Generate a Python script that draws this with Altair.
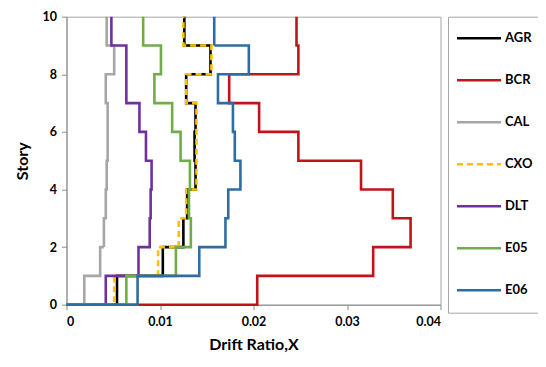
import altair as alt
import pandas as pd

series_names = ["AGR", "BCR", "CAL", "CXO", "DLT", "E05", "E06"]
series_colors = ["#000000", "#C0141C", "#A6A6A6", "#FFC000", "#7030A0", "#70AD47", "#2E6DA4"]
series_dash = [[1, 0], [1, 0], [1, 0], [6, 4], [1, 0], [1, 0], [1, 0]]

# drift ratio per story (story 1 .. story 10)
AGR = [0.0054, 0.0103, 0.0125, 0.0129, 0.0138, 0.0137, 0.0138, 0.0128, 0.0154, 0.0126]
BCR = [0.0204, 0.0328, 0.0368, 0.0349, 0.0315, 0.0248, 0.0206, 0.0174, 0.0248, 0.0246]
CAL = [0.0019, 0.0036, 0.0040, 0.0042, 0.0043, 0.0044, 0.0044, 0.0042, 0.0051, 0.0043]
CXO = [0.0051, 0.0098, 0.0120, 0.0128, 0.0139, 0.0139, 0.0139, 0.0128, 0.0155, 0.0125]
DLT = [0.0042, 0.0077, 0.0089, 0.0090, 0.0091, 0.0085, 0.0078, 0.0064, 0.0064, 0.0048]
E05 = [0.0064, 0.0117, 0.0133, 0.0131, 0.0132, 0.0122, 0.0113, 0.0094, 0.0101, 0.0082]
E06 = [0.0076, 0.0142, 0.0170, 0.0173, 0.0186, 0.0180, 0.0178, 0.0162, 0.0195, 0.0158]

x_ticks = [0, 0.01, 0.02, 0.03, 0.04]
y_ticks = [0, 2, 4, 6, 8, 10]

values = dict(AGR=AGR, BCR=BCR, CAL=CAL, CXO=CXO, DLT=DLT, E05=E05, E06=E06)

rows = []
for name in series_names:
    vals = values[name]
    rows.append(dict(series=name, x=0.0, y=0, o=0))
    for i, v in enumerate(vals):
        rows.append(dict(series=name, x=v, y=i, o=2 * i + 1))
        rows.append(dict(series=name, x=v, y=i + 1, o=2 * i + 2))
df = pd.DataFrame(rows)

FONT = "Lato"

chart = (
    alt.Chart(df)
    .mark_line(strokeWidth=2.6, interpolate="linear")
    .encode(
        x=alt.X(
            "x:Q",
            scale=alt.Scale(domain=[0, 0.04], nice=False),
            axis=alt.Axis(
                values=x_ticks,
                labelExpr="datum.value == 0 ? '0' : format(datum.value, '.2f')",
                title="Drift Ratio,X",
                grid=False,
                tickSize=5,
                labelPadding=6,
                titlePadding=8,
            ),
        ),
        y=alt.Y(
            "y:Q",
            scale=alt.Scale(domain=[0, 10], nice=False),
            axis=alt.Axis(
                values=y_ticks,
                title="Story",
                grid=False,
                tickSize=5,
                labelPadding=5,
                titlePadding=12,
            ),
        ),
        color=alt.Color(
            "series:N",
            scale=alt.Scale(domain=series_names, range=series_colors),
            legend=alt.Legend(
                title=" ",
                titleOrient="bottom",
                titleFontSize=1,
                titlePadding=9,
                orient="none",
                legendX=381.5,
                legendY=0,
                symbolType="M-1.467,0H1.467",
                symbolSize=900,
                symbolStrokeWidth=2.6,
                symbolOffset=9.5,
                labelFontSize=13,
                labelFont=FONT,
                labelFontWeight="bold",
                labelColor="#000000",
                labelOffset=9.5,
                rowPadding=18,
                padding=5,
                strokeColor="#A6A6A6",
                fillColor="white",
                cornerRadius=0,
            ),
        ),
        strokeDash=alt.StrokeDash(
            "series:N",
            scale=alt.Scale(domain=series_names, range=series_dash),
            legend=None,
        ),
        detail="series:N",
        order="o:Q",
    )
    .properties(
        width=374,
        height=288,
        autosize="none",
        padding={"left": 58.5, "top": 8.7, "right": 97.5, "bottom": 49},
    )
    .configure_view(stroke="#A6A6A6", strokeWidth=1)
    .configure_axis(
        domainColor="#8C8C8C",
        tickColor="#8C8C8C",
        labelFont=FONT,
        labelFontSize=12.5,
        labelFontWeight="bold",
        labelColor="#000000",
        titleFont=FONT,
        titleFontSize=16,
        titleFontWeight="bold",
        titleColor="#000000",
    )
)

chart.save("out.html", embed_options={"renderer": "svg", "actions": False})
